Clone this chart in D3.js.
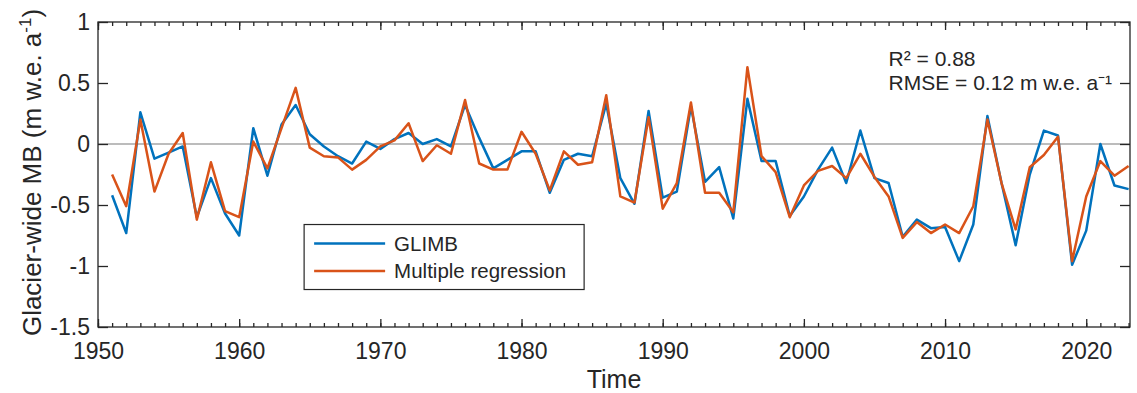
<!DOCTYPE html>
<html>
<head>
<meta charset="utf-8">
<script src="https://cdn.jsdelivr.net/npm/d3@7"></script>
<style>
    body { margin: 0; background: #fff; }
    svg text { font-family: "Liberation Sans", Arial, Helvetica, sans-serif; fill: #262626; }
    .axis path { display: none; }
    .axis line { stroke: #262626; stroke-width: 1.3px; }
</style>
</head>
<body>
<div id="chart"></div>
<script>
// years 1951-2023
const years = [1951, 1952, 1953, 1954, 1955, 1956, 1957, 1958, 1959, 1960,
    1961, 1962, 1963, 1964, 1965, 1966, 1967, 1968, 1969, 1970,
    1971, 1972, 1973, 1974, 1975, 1976, 1977, 1978, 1979, 1980,
    1981, 1982, 1983, 1984, 1985, 1986, 1987, 1988, 1989, 1990,
    1991, 1992, 1993, 1994, 1995, 1996, 1997, 1998, 1999, 2000,
    2001, 2002, 2003, 2004, 2005, 2006, 2007, 2008, 2009, 2010,
    2011, 2012, 2013, 2014, 2015, 2016, 2017, 2018, 2019, 2020,
    2021, 2022, 2023];

// GLIMB glacier-wide MB (m w.e. a-1)
const glimb = [-0.42, -0.73, 0.26, -0.12, -0.07, -0.02, -0.60, -0.28, -0.57, -0.75,
    0.13, -0.26, 0.16, 0.32, 0.08, -0.02, -0.10, -0.16, 0.02, -0.04,
    0.04, 0.09, 0.00, 0.04, -0.02, 0.32, 0.05, -0.20, -0.13, -0.06,
    -0.06, -0.40, -0.13, -0.08, -0.10, 0.33, -0.28, -0.49, 0.27, -0.44,
    -0.39, 0.31, -0.31, -0.19, -0.61, 0.37, -0.14, -0.14, -0.59, -0.43,
    -0.21, -0.03, -0.32, 0.11, -0.28, -0.32, -0.76, -0.62, -0.69, -0.68,
    -0.96, -0.66, 0.23, -0.32, -0.83, -0.25, 0.11, 0.07, -0.99, -0.71,
    0.00, -0.34, -0.37];

// multiple regression estimate
const regression = [-0.25, -0.51, 0.20, -0.39, -0.08, 0.09, -0.62, -0.15, -0.55, -0.60,
    0.02, -0.20, 0.13, 0.46, -0.03, -0.10, -0.11, -0.21, -0.13, -0.02,
    0.03, 0.17, -0.14, -0.01, -0.08, 0.36, -0.16, -0.21, -0.21, 0.10,
    -0.08, -0.38, -0.06, -0.17, -0.15, 0.40, -0.43, -0.48, 0.22, -0.53,
    -0.32, 0.34, -0.40, -0.40, -0.56, 0.63, -0.10, -0.23, -0.60, -0.34,
    -0.22, -0.18, -0.28, -0.08, -0.27, -0.43, -0.77, -0.64, -0.73, -0.66,
    -0.73, -0.51, 0.20, -0.32, -0.70, -0.19, -0.09, 0.06, -0.96, -0.43,
    -0.14, -0.26, -0.18];

const xMajorTicks = [1950, 1960, 1970, 1980, 1990, 2000, 2010, 2020];
const yTicks = [-1.5, -1, -0.5, 0, 0.5, 1];
const seriesNames = ["GLIMB", "Multiple regression"];
const seriesColors = ["#0072BD", "#D95319"];

let margin = {top: 22, right: 7, bottom: 66, left: 98};
let width = 1137 - margin.left - margin.right;
let height = 393 - margin.top - margin.bottom;

let svg = d3.select("#chart").append("svg")
    .attr("width", 1137)
    .attr("height", 393)
    .append("g")
    .attr("transform", "translate(" + margin.left + "," + margin.top + ")");

let x = d3.scaleLinear()
    .domain([1950, 2023.1])
    .range([0, width]);

let y = d3.scaleLinear()
    .domain([-1.5, 1])
    .range([height, 0]);

let fmtY = d => d3.format("")(d).replace("\u2212", "-");

// zero reference line
svg.append("line")
    .attr("x1", 0).attr("x2", width)
    .attr("y1", y(0)).attr("y2", y(0))
    .attr("stroke", "#a6a6a6")
    .attr("stroke-width", 1.5);

// minor year ticks, bottom and top
let minorYears = d3.range(1950, 2024);
svg.append("g")
    .attr("class", "axis")
    .attr("transform", "translate(0," + height + ")")
    .call(d3.axisBottom(x).tickValues(minorYears).tickSize(-4).tickFormat(""));
svg.append("g")
    .attr("class", "axis")
    .call(d3.axisTop(x).tickValues(minorYears).tickSize(-4).tickFormat(""));

// major ticks with labels
let xAxis = svg.append("g")
    .attr("class", "axis")
    .attr("transform", "translate(0," + height + ")")
    .call(d3.axisBottom(x).tickValues(xMajorTicks).tickSize(-8).tickPadding(16).tickFormat(d3.format("d")));
xAxis.selectAll("text").attr("font-size", 23);
svg.append("g")
    .attr("class", "axis")
    .call(d3.axisTop(x).tickValues(xMajorTicks).tickSize(-8).tickFormat(""));

let yAxis = svg.append("g")
    .attr("class", "axis")
    .call(d3.axisLeft(y).tickValues(yTicks).tickSize(-10).tickPadding(8).tickFormat(fmtY));
yAxis.selectAll("text").attr("font-size", 23);
svg.append("g")
    .attr("class", "axis")
    .attr("transform", "translate(" + width + ",0)")
    .call(d3.axisRight(y).tickValues(yTicks).tickSize(-10).tickFormat(""));

// box
svg.append("rect")
    .attr("width", width)
    .attr("height", height)
    .attr("fill", "none")
    .attr("stroke", "#262626")
    .attr("stroke-width", 1.3);

// series lines
let line = d3.line()
    .x((d, i) => x(years[i]))
    .y(d => y(d));

[glimb, regression].forEach(function(vals, k) {
    svg.append("path")
        .datum(vals)
        .attr("fill", "none")
        .attr("stroke", seriesColors[k])
        .attr("stroke-width", 2.5)
        .attr("stroke-linejoin", "round")
        .attr("d", line);
});

// legend
let legend = svg.append("g")
    .attr("transform", "translate(" + (x(1964.6)) + "," + (y(-0.66)) + ")");
legend.append("rect")
    .attr("width", 280)
    .attr("height", 65)
    .attr("fill", "#fff")
    .attr("stroke", "#262626")
    .attr("stroke-width", 1.2);
seriesNames.forEach(function(name, i) {
    let ly = 19 + i * 27.5;
    legend.append("line")
        .attr("x1", 10).attr("x2", 81)
        .attr("y1", ly).attr("y2", ly)
        .attr("stroke", seriesColors[i])
        .attr("stroke-width", 2.5);
    legend.append("text")
        .attr("x", 90)
        .attr("y", ly)
        .attr("dy", "0.35em")
        .attr("font-size", 20.5)
        .text(name);
});

// statistics
svg.append("text")
    .attr("x", x(2006))
    .attr("y", y(0.64))
    .attr("font-size", 21)
    .text("R\u00b2 = 0.88");
svg.append("text")
    .attr("x", x(2006))
    .attr("y", y(0.445))
    .attr("font-size", 21)
    .text("RMSE = 0.12 m w.e. a\u207b\u00b9");

// axis titles
svg.append("text")
    .attr("x", width / 2)
    .attr("y", height + 61)
    .attr("text-anchor", "middle")
    .attr("font-size", 25)
    .text("Time");

let ylab = svg.append("text")
    .attr("transform", "translate(-57," + (height / 2 - 2) + ") rotate(-90)")
    .attr("text-anchor", "middle")
    .attr("font-size", 26);
ylab.append("tspan").text("Glacier-wide MB (m w.e. a");
ylab.append("tspan").attr("dy", -10).attr("font-size", 17).text("-1");
ylab.append("tspan").attr("dy", 10).text(")");
</script>
</body>
</html>
